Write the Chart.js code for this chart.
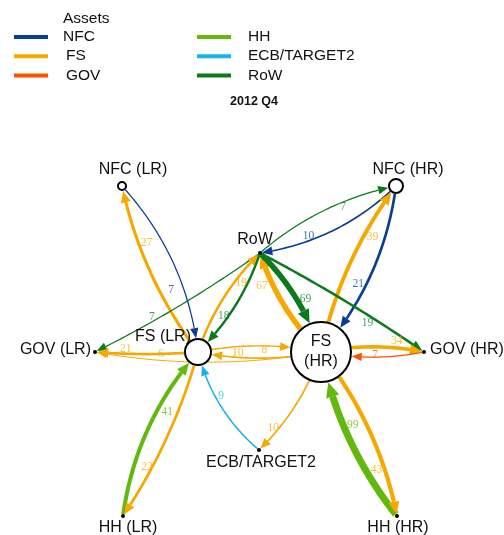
<!DOCTYPE html>
<html><head><meta charset="utf-8">
<script src="https://cdn.jsdelivr.net/npm/chart.js@4/dist/chart.umd.min.js"></script>
<style>html,body{margin:0;padding:0;background:#fff}canvas{display:block}</style>
</head><body>
<canvas id="c" width="504" height="535"></canvas>
<script>
// ---------- DATA ----------
const chartTitle = "2012 Q4";
const legendTitle = "Assets";
const sectors = ["NFC", "FS", "GOV", "HH", "ECB/TARGET2", "RoW"];
const sectorColors = ["#0b3c96", "#f7a800", "#ff5000", "#63b80e", "#16b4e9", "#0b7a1c"];

const nodeNames = ["NFC (LR)", "NFC (HR)", "RoW", "FS (LR)", "FS (HR)", "GOV (LR)", "GOV (HR)", "ECB/TARGET2", "HH (LR)", "HH (HR)"];
const nodeLabels = ["NFC (LR)", "NFC (HR)", "RoW", "FS (LR)", "FS\n(HR)", "GOV (LR)", "GOV (HR)", "ECB/TARGET2", "HH (LR)", "HH (HR)"];
// network layout coordinates (layout units)
const nodeX = [122, 396, 260, 198, 321, 95, 424, 259, 123, 397];
const nodeY = [186, 186, 253, 352, 352, 352, 352, 450, 516, 516];

// edges (holder -> counterpart), value in label
const edgeFrom  = ["NFC (LR)", "FS (LR)", "RoW", "FS (LR)", "RoW", "FS (LR)", "FS (HR)", "FS (LR)", "ECB/TARGET2", "FS (HR)", "HH (LR)", "FS (LR)", "NFC (HR)", "RoW", "FS (HR)", "NFC (HR)", "FS (HR)", "RoW", "RoW", "FS (HR)", "GOV (HR)", "HH (HR)", "FS (HR)", "FS (HR)"];
const edgeTo    = ["FS (LR)", "NFC (LR)", "GOV (LR)", "RoW", "FS (LR)", "GOV (LR)", "FS (LR)", "FS (HR)", "FS (LR)", "ECB/TARGET2", "FS (LR)", "HH (LR)", "RoW", "NFC (HR)", "NFC (HR)", "FS (HR)", "RoW", "FS (HR)", "GOV (HR)", "GOV (HR)", "FS (HR)", "FS (HR)", "HH (HR)", "GOV (LR)"];
const edgeValue = [7, 27, 7, 19, 18, 21, 10, 8, 9, 10, 41, 22, 10, 7, 39, 21, 67, 69, 19, 34, 7, 99, 43, 6];

// ---------- STYLE ----------
const nodeSector = ["NFC", "NFC", "RoW", "FS", "FS", "GOV", "GOV", "ECB/TARGET2", "HH", "HH"];
const nodeRadius = [4, 7, 2, 13, 30, 2, 2, 2, 2, 2];
const nodeIsCircle = [true, true, false, true, true, false, false, false, false, false];
// label placement [dx, dy, align]
const nodeLabelPos = [[11,-16,'center'],[12,-16,'center'],[-5,-13,'center'],[-35,-15,'center'],[0,0,'inside'],[-4,-2,'right'],[6,-2,'left'],[2,13,'center'],[5,12,'center'],[1,12,'center']];
// curvature (fraction of length, negative = bend to left of travel direction)
const edgeCurve = [-0.16,-0.11,-0.04,-0.12,-0.12,-0.04,-0.1,-0.1,-0.16,-0.12,-0.15,-0.08,-0.16,-0.13,-0.11,-0.15,-0.12,-0.12,-0.03,-0.1,-0.1,-0.12,-0.12,-0.09];
const edgeLabelNudge = [[-11,5],[8,0],[0,-5],[5,3],[-5,0],[0,-5],[0,-4],[0,4],[6,0],[-6,0],[9,4],[-5,0],[0,-5],[0,5],[7,4],[-7,-3],[-9,5],[9,0],[-3,6],[-2,-7],[0,-2],[8,-4],[-7,4],[0,-6]];

function colorOf(sector){ return sectorColors[sectors.indexOf(sector)]; }
function edgeWidth(v){ return 1 + 6 * Math.pow(Math.max(0,(v-6))/93, 0.7); }
function hexA(hex, a){ const r=parseInt(hex.slice(1,3),16),g=parseInt(hex.slice(3,5),16),b=parseInt(hex.slice(5,7),16); return `rgba(${r},${g},${b},${a})`; }

const SANS = "'Liberation Sans', Arial, sans-serif";
const SERIF = "'Liberation Serif', 'Times New Roman', serif";

const networkPlugin = {
  id: 'network',
  beforeDatasetsDraw(chart){
    const ctx = chart.ctx, xs = chart.scales.x, ys = chart.scales.y;
    const P = i => ({x: xs.getPixelForValue(nodeX[i]), y: ys.getPixelForValue(nodeY[i])});
    const labels = [];
    for (let e = 0; e < edgeValue.length; e++){
      const a = nodeNames.indexOf(edgeFrom[e]), b = nodeNames.indexOf(edgeTo[e]);
      const pA = P(a), pB = P(b);
      const dx = pB.x - pA.x, dy = pB.y - pA.y, L = Math.hypot(dx, dy);
      const nx = -dy / L, ny = dx / L;
      const c = {x: (pA.x+pB.x)/2 + nx*edgeCurve[e]*L, y: (pA.y+pB.y)/2 + ny*edgeCurve[e]*L};
      const B = t => ({x:(1-t)*(1-t)*pA.x + 2*(1-t)*t*c.x + t*t*pB.x, y:(1-t)*(1-t)*pA.y + 2*(1-t)*t*c.y + t*t*pB.y});
      const dist = (p,q) => Math.hypot(p.x-q.x, p.y-q.y);
      const rA = nodeRadius[a] + (nodeIsCircle[a]?1:0), rB = nodeRadius[b] + (nodeIsCircle[b]?1:0);
      let lo=0, hi=0.5; for(let k=0;k<40;k++){const m=(lo+hi)/2; if(dist(B(m),pA)<rA) lo=m; else hi=m;} const t0=hi;
      lo=0.5; hi=1; for(let k=0;k<40;k++){const m=(lo+hi)/2; if(dist(B(m),pB)>rB) lo=m; else hi=m;} const t1=lo;
      const w = edgeWidth(edgeValue[e]);
      const al = 9 + w*0.85, hw = 3.6 + w*0.45;
      const tip = B(t1);
      lo=t0; hi=t1; for(let k=0;k<40;k++){const m=(lo+hi)/2; if(dist(B(m),tip)>al) lo=m; else hi=m;} const tb=lo;
      const base = B(tb);
      const col = colorOf(nodeSector[a]);
      ctx.save();
      ctx.strokeStyle = col; ctx.lineWidth = w; ctx.lineCap = 'butt'; ctx.lineJoin='round';
      ctx.beginPath();
      const N = 40;
      for (let k = 0; k <= N; k++){ const p = B(t0 + (tb - t0)*k/N); if(k===0) ctx.moveTo(p.x,p.y); else ctx.lineTo(p.x,p.y); }
      ctx.stroke();
      const ux = (tip.x-base.x)/al, uy = (tip.y-base.y)/al;
      ctx.fillStyle = col;
      ctx.beginPath();
      ctx.moveTo(tip.x, tip.y);
      ctx.lineTo(base.x - uy*hw, base.y + ux*hw);
      ctx.lineTo(base.x + uy*hw, base.y - ux*hw);
      ctx.closePath(); ctx.fill();
      ctx.restore();
      const lp = B(t0 + 0.67*(t1-t0));
      labels.push({x: lp.x + edgeLabelNudge[e][0], y: lp.y + edgeLabelNudge[e][1], text: String(edgeValue[e]), col});
    }
    ctx.save();
    ctx.font = "11.5px " + SERIF; ctx.textAlign='center'; ctx.textBaseline='middle';
    labels.forEach(l => { ctx.fillStyle = hexA(l.col, 0.75); ctx.fillText(l.text, l.x, l.y); });
    ctx.font = "16px " + SANS; ctx.fillStyle = '#111';
    nodeNames.forEach((n,i) => {
      const [ddx, ddy, al] = nodeLabelPos[i];
      if (al === 'inside') return;
      const p = P(i);
      ctx.textAlign = al; ctx.textBaseline = 'middle';
      ctx.fillText(nodeLabels[i], p.x + ddx, p.y + ddy);
    });
    ctx.restore();
  },
  afterDatasetsDraw(chart){
    const ctx = chart.ctx, xs = chart.scales.x, ys = chart.scales.y;
    ctx.save();
    ctx.font = "16px " + SANS; ctx.fillStyle = '#111'; ctx.textAlign='center'; ctx.textBaseline='middle';
    nodeNames.forEach((n,i) => {
      if (nodeLabelPos[i][2] !== 'inside') return;
      const x = xs.getPixelForValue(nodeX[i]), y = ys.getPixelForValue(nodeY[i]);
      const lines = nodeLabels[i].split('\n');
      lines.forEach((t,k) => ctx.fillText(t, x, y + (k - (lines.length-1)/2)*20));
    });
    ctx.font = "bold 12.5px " + SANS; ctx.fillText(chartTitle, 254, 102);
    ctx.textAlign = 'left';
    ctx.font = "15.5px " + SANS;
    ctx.fillText(legendTitle, 63, 19);
    sectors.forEach((s, i) => {
      const col = Math.floor(i/3), row = i%3;
      const lx = col ? 197 : 14, ty = 37 + row*19.2;
      ctx.strokeStyle = sectorColors[i]; ctx.lineWidth = 4;
      ctx.beginPath(); ctx.moveTo(lx, ty); ctx.lineTo(lx+34, ty); ctx.stroke();
      ctx.fillStyle = '#111';
      ctx.fillText(s, col ? 248 : (i===0 ? 63 : 66), ty);
    });
    ctx.restore();
  }
};

new Chart(document.getElementById('c'), {
  type: 'scatter',
  data: {
    datasets: [{
      data: nodeNames.map((n,i) => ({x: nodeX[i], y: nodeY[i]})),
      pointRadius: nodeRadius,
      pointHoverRadius: nodeRadius,
      pointBackgroundColor: nodeIsCircle.map(c => c ? '#fff' : '#000'),
      pointBorderColor: '#000',
      pointBorderWidth: nodeIsCircle.map(c => c ? 2 : 0),
      clip: false
    }]
  },
  options: {
    responsive: false, animation: false, devicePixelRatio: 1,
    layout: {padding: 0, autoPadding: false},
    scales: {
      x: {type: 'linear', min: 0, max: 504, display: false},
      y: {type: 'linear', min: 0, max: 535, reverse: true, display: false}
    },
    plugins: {legend: {display: false}, tooltip: {enabled: false}, title: {display: false}},
    events: []
  },
  plugins: [networkPlugin]
});
</script>
</body></html>
